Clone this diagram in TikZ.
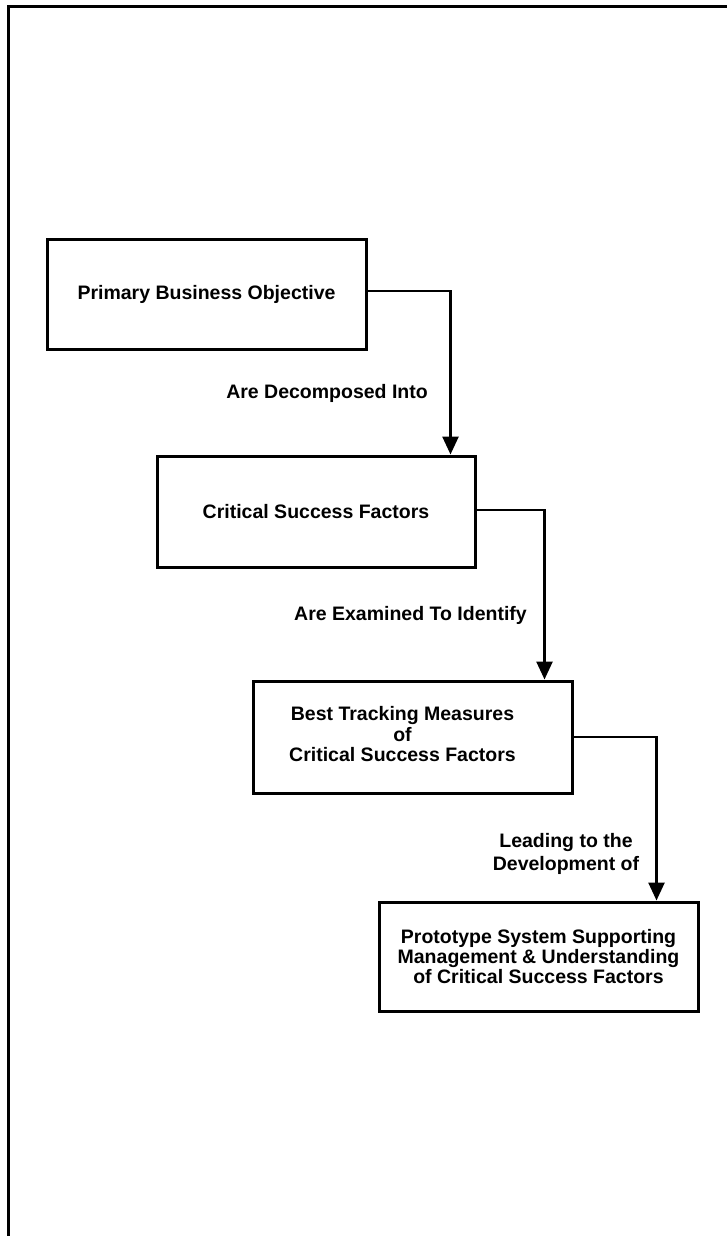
\documentclass[tikz,border=0pt]{standalone}
\usepackage{fontspec}
\setmainfont{Liberation Sans}
\usetikzlibrary{arrows.meta}

\begin{document}
\begin{tikzpicture}[x=1pt,y=-1pt,
  box/.style={draw,line width=3pt,inner sep=0pt,align=center,
    font=\bfseries\fontsize{19.5}{20}\selectfont},
  conn/.style={line width=2.6pt,-{Triangle[width=16pt,length=18pt]}},
  lbl/.style={inner sep=0pt,align=center,
    font=\bfseries\fontsize{19.5}{23}\selectfont},
  frame/.style={line width=3pt}]

\useasboundingbox (0,0) rectangle (727,1236);

% page frame: top and left rules only
\coordinate (frameTR) at (727,7);
\coordinate (frameTL) at (8,7);
\coordinate (frameBL) at (8,1236);
\draw[frame] (frameTR) -- (frameTL) -- (frameBL);

% the four stages
\node[box,minimum width=319pt,minimum height=110pt] (b1) at (206.5,294)
  {Primary Business Objective};
\node[box,minimum width=318pt,minimum height=111pt] (b2) at (316,511.5)
  {Critical Success Factors};
\node[box,minimum width=319pt,minimum height=112pt] (b3) at (412.5,737)
  {\begin{tabular}{@{}c@{}}Best Tracking Measures\\of\\Critical Success Factors\end{tabular}\hspace*{20pt}};
\node[box,minimum width=319pt,minimum height=109pt] (b4) at (538.5,956.5)
  {Prototype System Supporting\\Management \& Understanding\\of Critical Success Factors};

% elbow connectors
\draw[conn] ([yshift=3pt]b1.east) -| ([xshift=-26pt]b2.north east);
\draw[conn] ([yshift=1.5pt]b2.east) -| ([xshift=-29pt]b3.north east);
\draw[conn] (b3.east) -| ([xshift=-43pt]b4.north east);

% connector labels
\node[lbl,anchor=east] (l1) at (428,393) {Are Decomposed Into};
\node[lbl,anchor=east] (l2) at (527,615) {Are Examined To Identify};
\node[lbl] (l3) at (566,853.5) {Leading to the\\Development of};

\end{tikzpicture}
\end{document}
